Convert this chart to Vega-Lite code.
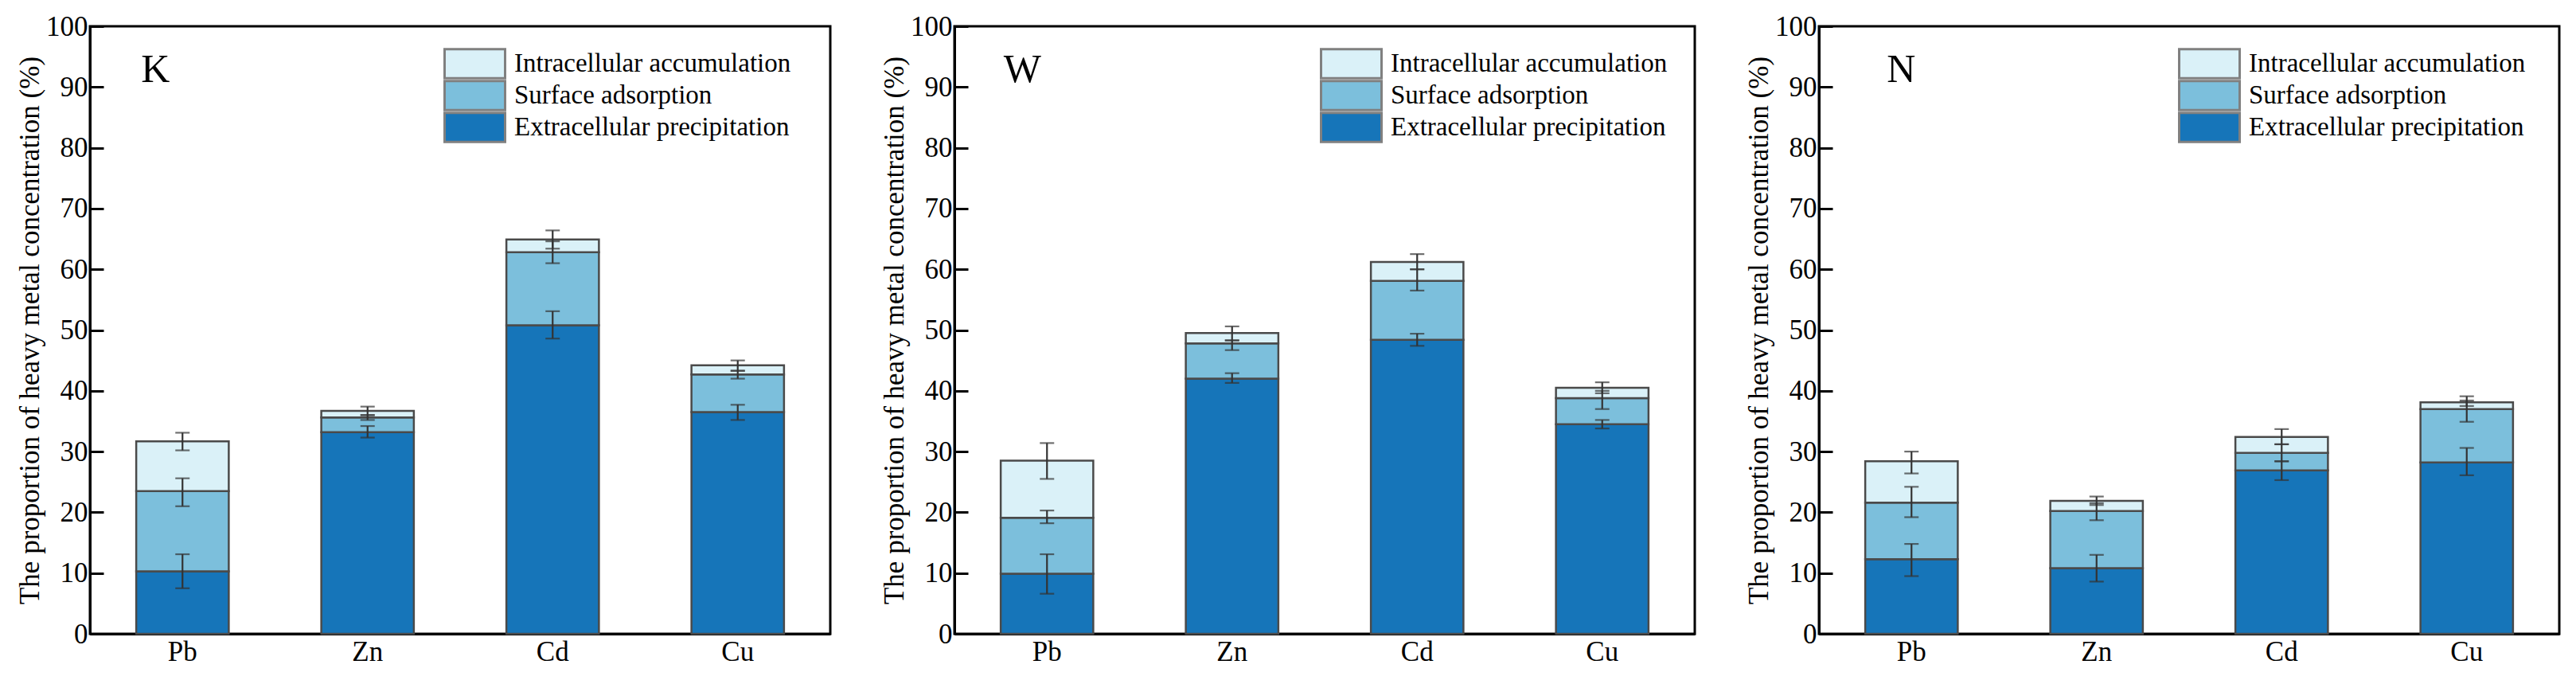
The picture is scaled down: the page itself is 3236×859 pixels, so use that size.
{
  "$schema": "https://vega.github.io/schema/vega-lite/v6.json",
  "padding": {"left": 19, "top": 14, "right": 0, "bottom": 0},
  "data": {
    "values": [
      {"panel": "K", "metal": "Pb", "fraction": "Extracellular precipitation", "ord": 1, "value": 10.3, "lo": 7.5, "hi": 13.1},
      {"panel": "K", "metal": "Pb", "fraction": "Surface adsorption", "ord": 2, "value": 13.2, "lo": 21.0, "hi": 25.6},
      {"panel": "K", "metal": "Pb", "fraction": "Intracellular accumulation", "ord": 3, "value": 8.2, "lo": 30.2, "hi": 33.1},
      {"panel": "K", "metal": "Zn", "fraction": "Extracellular precipitation", "ord": 1, "value": 33.2, "lo": 32.3, "hi": 34.2},
      {"panel": "K", "metal": "Zn", "fraction": "Surface adsorption", "ord": 2, "value": 2.4, "lo": 35.2, "hi": 36.0},
      {"panel": "K", "metal": "Zn", "fraction": "Intracellular accumulation", "ord": 3, "value": 1.1, "lo": 36.0, "hi": 37.4},
      {"panel": "K", "metal": "Cd", "fraction": "Extracellular precipitation", "ord": 1, "value": 50.8, "lo": 48.6, "hi": 53.1},
      {"panel": "K", "metal": "Cd", "fraction": "Surface adsorption", "ord": 2, "value": 12.0, "lo": 61.0, "hi": 64.6},
      {"panel": "K", "metal": "Cd", "fraction": "Intracellular accumulation", "ord": 3, "value": 2.1, "lo": 63.4, "hi": 66.4},
      {"panel": "K", "metal": "Cu", "fraction": "Extracellular precipitation", "ord": 1, "value": 36.5, "lo": 35.2, "hi": 37.7},
      {"panel": "K", "metal": "Cu", "fraction": "Surface adsorption", "ord": 2, "value": 6.2, "lo": 42.0, "hi": 43.3},
      {"panel": "K", "metal": "Cu", "fraction": "Intracellular accumulation", "ord": 3, "value": 1.5, "lo": 43.3, "hi": 45.0},
      {"panel": "W", "metal": "Pb", "fraction": "Extracellular precipitation", "ord": 1, "value": 9.9, "lo": 6.6, "hi": 13.1},
      {"panel": "W", "metal": "Pb", "fraction": "Surface adsorption", "ord": 2, "value": 9.2, "lo": 18.2, "hi": 20.3},
      {"panel": "W", "metal": "Pb", "fraction": "Intracellular accumulation", "ord": 3, "value": 9.4, "lo": 25.5, "hi": 31.4},
      {"panel": "W", "metal": "Zn", "fraction": "Extracellular precipitation", "ord": 1, "value": 42.0, "lo": 41.3, "hi": 42.9},
      {"panel": "W", "metal": "Zn", "fraction": "Surface adsorption", "ord": 2, "value": 5.8, "lo": 46.7, "hi": 48.3},
      {"panel": "W", "metal": "Zn", "fraction": "Intracellular accumulation", "ord": 3, "value": 1.7, "lo": 48.3, "hi": 50.6},
      {"panel": "W", "metal": "Cd", "fraction": "Extracellular precipitation", "ord": 1, "value": 48.4, "lo": 47.4, "hi": 49.4},
      {"panel": "W", "metal": "Cd", "fraction": "Surface adsorption", "ord": 2, "value": 9.7, "lo": 56.5, "hi": 60.0},
      {"panel": "W", "metal": "Cd", "fraction": "Intracellular accumulation", "ord": 3, "value": 3.1, "lo": 60.0, "hi": 62.5},
      {"panel": "W", "metal": "Cu", "fraction": "Extracellular precipitation", "ord": 1, "value": 34.5, "lo": 33.8, "hi": 35.2},
      {"panel": "W", "metal": "Cu", "fraction": "Surface adsorption", "ord": 2, "value": 4.3, "lo": 37.0, "hi": 40.0},
      {"panel": "W", "metal": "Cu", "fraction": "Intracellular accumulation", "ord": 3, "value": 1.7, "lo": 39.6, "hi": 41.4},
      {"panel": "N", "metal": "Pb", "fraction": "Extracellular precipitation", "ord": 1, "value": 12.3, "lo": 9.5, "hi": 14.8},
      {"panel": "N", "metal": "Pb", "fraction": "Surface adsorption", "ord": 2, "value": 9.3, "lo": 19.2, "hi": 24.2},
      {"panel": "N", "metal": "Pb", "fraction": "Intracellular accumulation", "ord": 3, "value": 6.8, "lo": 26.4, "hi": 30.0},
      {"panel": "N", "metal": "Zn", "fraction": "Extracellular precipitation", "ord": 1, "value": 10.8, "lo": 8.6, "hi": 13.0},
      {"panel": "N", "metal": "Zn", "fraction": "Surface adsorption", "ord": 2, "value": 9.4, "lo": 18.7, "hi": 21.5},
      {"panel": "N", "metal": "Zn", "fraction": "Intracellular accumulation", "ord": 3, "value": 1.7, "lo": 21.2, "hi": 22.6},
      {"panel": "N", "metal": "Cd", "fraction": "Extracellular precipitation", "ord": 1, "value": 26.9, "lo": 25.3, "hi": 28.4},
      {"panel": "N", "metal": "Cd", "fraction": "Surface adsorption", "ord": 2, "value": 2.9, "lo": 28.4, "hi": 31.2},
      {"panel": "N", "metal": "Cd", "fraction": "Intracellular accumulation", "ord": 3, "value": 2.6, "lo": 31.2, "hi": 33.7},
      {"panel": "N", "metal": "Cu", "fraction": "Extracellular precipitation", "ord": 1, "value": 28.2, "lo": 26.1, "hi": 30.6},
      {"panel": "N", "metal": "Cu", "fraction": "Surface adsorption", "ord": 2, "value": 8.8, "lo": 34.9, "hi": 38.4},
      {"panel": "N", "metal": "Cu", "fraction": "Intracellular accumulation", "ord": 3, "value": 1.1, "lo": 37.5, "hi": 39.1}
    ]
  },
  "hconcat": [
    {
      "width": 930,
      "height": 763,
      "layer": [
        {
          "transform": [{"filter": "datum.panel === 'K'"}],
          "mark": {"type": "bar", "stroke": "#4a4a4a", "strokeWidth": 2.5},
          "encoding": {
            "x": {"field": "metal", "type": "nominal", "sort": ["Pb", "Zn", "Cd", "Cu"], "scale": {"paddingInner": 0.5, "paddingOuter": 0.25}, "title": null},
            "y": {"field": "value", "type": "quantitative", "stack": "zero", "scale": {"domain": [0, 100], "nice": false}, "title": "The proportion of heavy metal concentration (%)", "axis": {"values": [0, 10, 20, 30, 40, 50, 60, 70, 80, 90, 100]}},
            "color": {
              "field": "fraction", "type": "nominal",
              "scale": {"domain": ["Intracellular accumulation", "Surface adsorption", "Extracellular precipitation"], "range": ["#daf1f8", "#7cbfdc", "#1675b9"]},
              "legend": {"legendX": 444, "legendY": 27}
            },
            "order": {"field": "ord", "type": "quantitative"}
          }
        },
        {
          "transform": [{"filter": "datum.panel === 'K'"}],
          "mark": {"type": "errorbar", "color": "#333333", "thickness": 2.2, "ticks": {"size": 18}},
          "encoding": {
            "x": {"field": "metal", "type": "nominal", "sort": ["Pb", "Zn", "Cd", "Cu"]},
            "y": {"field": "lo", "type": "quantitative", "title": "The proportion of heavy metal concentration (%)", "axis": {"values": [0, 10, 20, 30, 40, 50, 60, 70, 80, 90, 100]}},
            "y2": {"field": "hi"}
          }
        },
        {
          "data": {"values": [{"label": "K"}]},
          "mark": {"type": "text", "fontSize": 50, "font": "Liberation Serif", "baseline": "alphabetic", "align": "center", "dx": -34, "color": "black"},
          "encoding": {"x": {"datum": "Pb"}, "y": {"datum": 90.8}, "text": {"field": "label"}}
        }
      ]
    },
    {
      "width": 930,
      "height": 763,
      "layer": [
        {
          "transform": [{"filter": "datum.panel === 'W'"}],
          "mark": {"type": "bar", "stroke": "#4a4a4a", "strokeWidth": 2.5},
          "encoding": {
            "x": {"field": "metal", "type": "nominal", "sort": ["Pb", "Zn", "Cd", "Cu"], "scale": {"paddingInner": 0.5, "paddingOuter": 0.25}, "title": null},
            "y": {"field": "value", "type": "quantitative", "stack": "zero", "scale": {"domain": [0, 100], "nice": false}, "title": "The proportion of heavy metal concentration (%)", "axis": {"values": [0, 10, 20, 30, 40, 50, 60, 70, 80, 90, 100]}},
            "color": {
              "field": "fraction", "type": "nominal",
              "scale": {"domain": ["Intracellular accumulation", "Surface adsorption", "Extracellular precipitation"], "range": ["#daf1f8", "#7cbfdc", "#1675b9"]},
              "legend": {"legendX": 459, "legendY": 27}
            },
            "order": {"field": "ord", "type": "quantitative"}
          }
        },
        {
          "transform": [{"filter": "datum.panel === 'W'"}],
          "mark": {"type": "errorbar", "color": "#333333", "thickness": 2.2, "ticks": {"size": 18}},
          "encoding": {
            "x": {"field": "metal", "type": "nominal", "sort": ["Pb", "Zn", "Cd", "Cu"]},
            "y": {"field": "lo", "type": "quantitative", "title": "The proportion of heavy metal concentration (%)", "axis": {"values": [0, 10, 20, 30, 40, 50, 60, 70, 80, 90, 100]}},
            "y2": {"field": "hi"}
          }
        },
        {
          "data": {"values": [{"label": "W"}]},
          "mark": {"type": "text", "fontSize": 50, "font": "Liberation Serif", "baseline": "alphabetic", "align": "center", "dx": -31, "color": "black"},
          "encoding": {"x": {"datum": "Pb"}, "y": {"datum": 90.8}, "text": {"field": "label"}}
        }
      ]
    },
    {
      "width": 930,
      "height": 763,
      "layer": [
        {
          "transform": [{"filter": "datum.panel === 'N'"}],
          "mark": {"type": "bar", "stroke": "#4a4a4a", "strokeWidth": 2.5},
          "encoding": {
            "x": {"field": "metal", "type": "nominal", "sort": ["Pb", "Zn", "Cd", "Cu"], "scale": {"paddingInner": 0.5, "paddingOuter": 0.25}, "title": null},
            "y": {"field": "value", "type": "quantitative", "stack": "zero", "scale": {"domain": [0, 100], "nice": false}, "title": "The proportion of heavy metal concentration (%)", "axis": {"values": [0, 10, 20, 30, 40, 50, 60, 70, 80, 90, 100]}},
            "color": {
              "field": "fraction", "type": "nominal",
              "scale": {"domain": ["Intracellular accumulation", "Surface adsorption", "Extracellular precipitation"], "range": ["#daf1f8", "#7cbfdc", "#1675b9"]},
              "legend": {"legendX": 451, "legendY": 27}
            },
            "order": {"field": "ord", "type": "quantitative"}
          }
        },
        {
          "transform": [{"filter": "datum.panel === 'N'"}],
          "mark": {"type": "errorbar", "color": "#333333", "thickness": 2.2, "ticks": {"size": 18}},
          "encoding": {
            "x": {"field": "metal", "type": "nominal", "sort": ["Pb", "Zn", "Cd", "Cu"]},
            "y": {"field": "lo", "type": "quantitative", "title": "The proportion of heavy metal concentration (%)", "axis": {"values": [0, 10, 20, 30, 40, 50, 60, 70, 80, 90, 100]}},
            "y2": {"field": "hi"}
          }
        },
        {
          "data": {"values": [{"label": "N"}]},
          "mark": {"type": "text", "fontSize": 50, "font": "Liberation Serif", "baseline": "alphabetic", "align": "center", "dx": -13, "color": "black"},
          "encoding": {"x": {"datum": "Pb"}, "y": {"datum": 90.8}, "text": {"field": "label"}}
        }
      ]
    }
  ],
  "resolve": {"legend": {"color": "independent"}},
  "config": {
    "font": "Liberation Serif",
    "view": {"stroke": "black", "strokeWidth": 3},
    "concat": {"spacing": 60},
    "axis": {
      "labelFont": "Liberation Serif", "titleFont": "Liberation Serif",
      "labelFontSize": 35, "titleFontSize": 35, "titleFontWeight": "normal",
      "labelColor": "black", "titleColor": "black",
      "domainColor": "black", "domainWidth": 3,
      "tickColor": "black", "tickWidth": 3, "tickSize": -17,
      "grid": false, "zindex": 1
    },
    "axisX": {"labelAngle": 0, "labelPadding": 22},
    "axisY": {"labelPadding": 20, "titlePadding": 2},
    "legend": {
      "orient": "none", "title": null,
      "symbolType": "M-1,-0.48H1V0.48H-1Z", "symbolSize": 5776,
      "symbolStrokeColor": "#808080", "symbolStrokeWidth": 3, "symbolOpacity": 1,
      "labelFont": "Liberation Serif", "labelFontSize": 33, "labelColor": "black",
      "labelOffset": 10, "rowPadding": 0, "clipHeight": 40, "labelLimit": 600
    }
  }
}
